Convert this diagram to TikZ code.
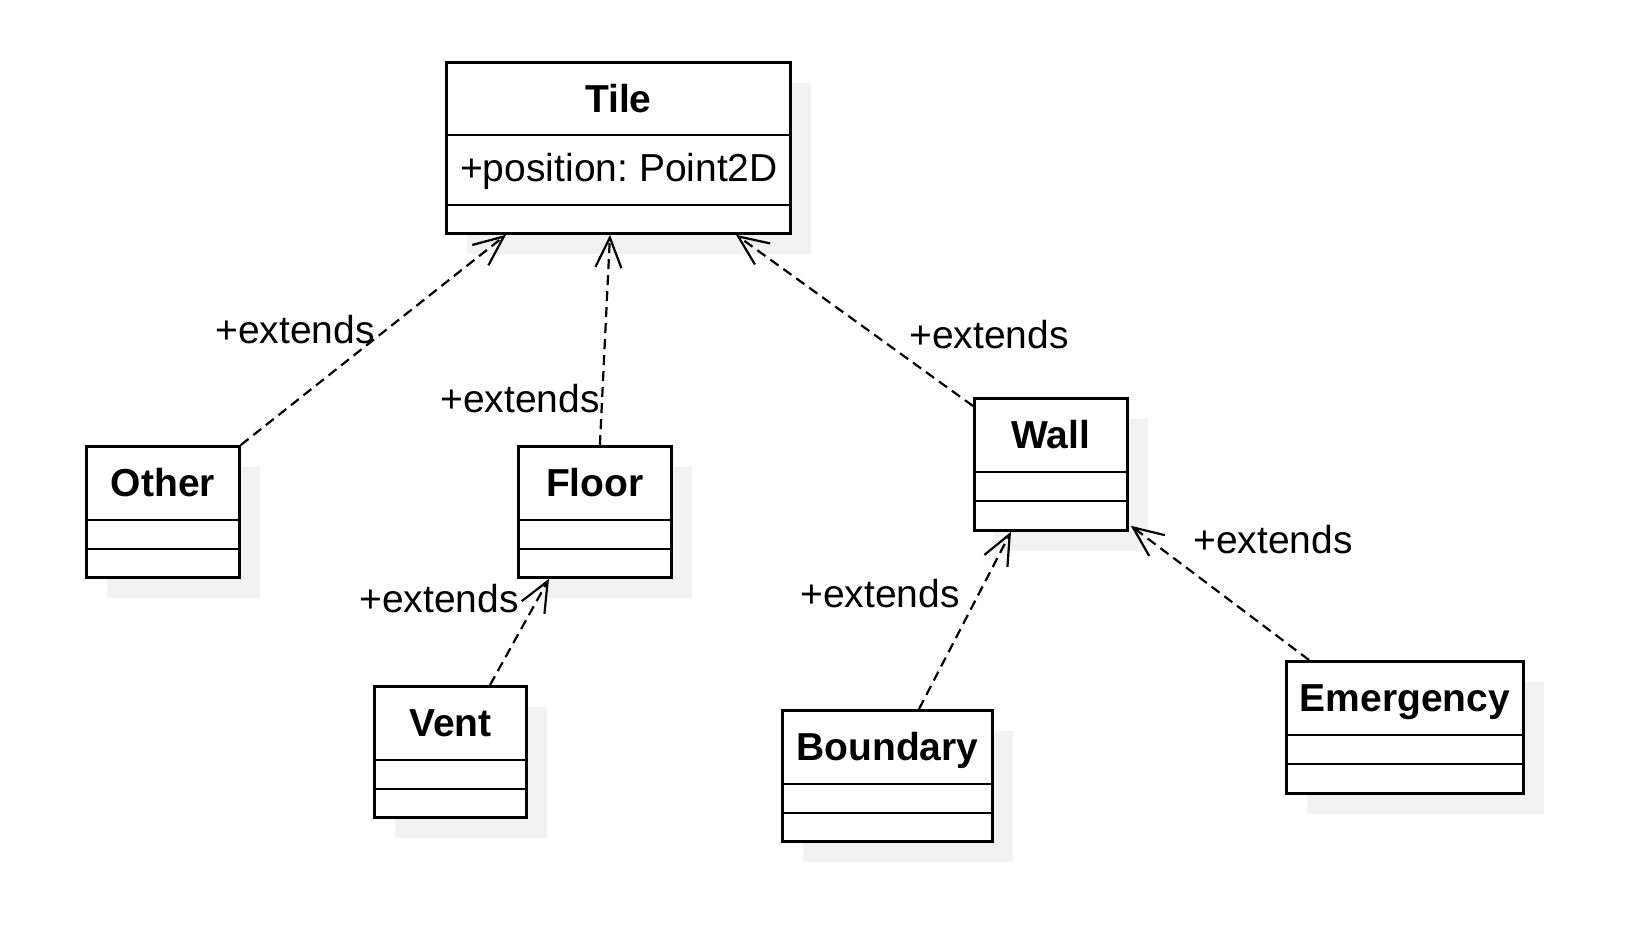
\documentclass[tikz,border=0pt]{standalone}
\usepackage{fontspec}
\setmainfont{Liberation Sans}
\usetikzlibrary{calc,arrows.meta,shadows}
\definecolor{shadowgray}{HTML}{F2F2F2}
\frenchspacing
\begin{document}
\begin{tikzpicture}[x=1pt,y=-1pt,
  cls/.style={draw=black, line width=2.8pt, fill=white, inner sep=0pt, anchor=north west,
    drop shadow={shadow xshift=21pt, shadow yshift=-21pt, fill=shadowgray, opacity=1}},
  divider/.style={draw=black, line width=2.4pt},
  clstitle/.style={font=\fontsize{39pt}{47pt}\selectfont\bfseries, anchor=base, inner sep=0pt},
  attr/.style={font=\fontsize{39pt}{47pt}\selectfont, anchor=base west, inner sep=0pt},
  lbl/.style={font=\fontsize{39pt}{47pt}\selectfont, anchor=base, inner sep=0pt},
  ext/.style={draw=black, line width=2.2pt, dash pattern=on 10pt off 6pt,
    -{Straight Barb[length=30pt,width=26pt,line width=2.2pt]}}
]
\useasboundingbox[fill=white] (0,0) rectangle (1628,938);

% Tile
\node[cls, minimum width=344pt, minimum height=171pt] (tile) at (445,61) {};
\draw[divider] ($(tile.north west)+(0,74)$) -- ($(tile.north east)+(0,74)$);
\draw[divider] ($(tile.north west)+(0,144)$) -- ($(tile.north east)+(0,144)$);
\node[clstitle] (tilet) at ($(tile.north)+(0,51)$) {Tile};
\node[attr] (tilea) at ($(tile.north west)+(15,120)$) {+position: Point2D};

% generic classes
\node[cls, minimum width=153pt, minimum height=131pt] (other) at (85,445) {};
\node[cls, minimum width=153pt, minimum height=131pt] (floor) at (517,445) {};
\node[cls, minimum width=152pt, minimum height=131pt] (vent) at (373,685) {};
\node[cls, minimum width=153pt, minimum height=132pt] (wall) at (973,397) {};
\node[cls, minimum width=210pt, minimum height=131pt] (boundary) at (781,709) {};
\node[cls, minimum width=237pt, minimum height=132pt] (emergency) at (1285,660) {};

\foreach \n in {other,floor,vent,wall,boundary,emergency}{
  \draw[divider] ($(\n.north west)+(0,75)$) -- ($(\n.north east)+(0,75)$);
  \draw[divider] ($(\n.north west)+(0,104)$) -- ($(\n.north east)+(0,104)$);
}
\node[clstitle] (othert) at ($(other.north)+(0,51)$) {Other};
\node[clstitle] (floort) at ($(floor.north)+(0,51)$) {Floor};
\node[clstitle] (ventt) at ($(vent.north)+(0,51)$) {Vent};
\node[clstitle] (wallt) at ($(wall.north)+(0,51)$) {Wall};
\node[clstitle] (boundaryt) at ($(boundary.north)+(0,51)$) {Boundary};
\node[clstitle] (emergencyt) at ($(emergency.north)+(0,51)$) {Emergency};

% connectors
\draw[ext] (other.north east) -- ($(tile.south west)+(61,0)$);
\draw[ext] ($(floor.north)+(5,0)$) -- ($(tile.south west)+(165,0)$);
\draw[ext] ($(wall.north west)+(0,9)$) -- ($(tile.south west)+(291,0)$);
\draw[ext] ($(vent.north west)+(117,0)$) -- ($(floor.south west)+(32,0)$);
\draw[ext] ($(boundary.north west)+(138,0)$) -- ($(wall.south west)+(38,0)$);
\draw[ext] ($(emergency.north west)+(24,0)$) -- ($(wall.south east)+(2,-6)$);

% labels
\node[lbl] (l1) at (295,343) {+extends};
\node[lbl] (l2) at (520,412) {+extends};
\node[lbl] (l3) at (989,348) {+extends};
\node[lbl] (l4) at (439,612) {+extends};
\node[lbl] (l5) at (880,607) {+extends};
\node[lbl] (l6) at (1273,553) {+extends};
\end{tikzpicture}
\end{document}
